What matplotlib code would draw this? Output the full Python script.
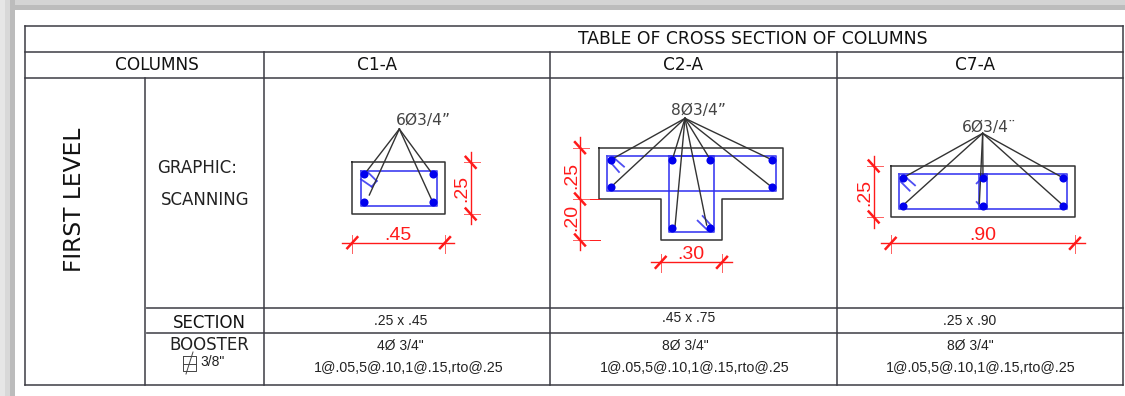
# -*- coding: utf-8 -*-
import matplotlib
matplotlib.use('Agg')
import matplotlib.pyplot as plt

# table grid, in picture pixels
rowLines = [26, 52, 78, 308, 333, 384.5]
colLines = [25, 144.5, 263.5, 549.5, 836.5, 1123]

title = 'TABLE OF CROSS SECTION OF COLUMNS'
columnNames = ['C1-A', 'C2-A', 'C7-A']
columnNameX = [377, 683, 975]
sectionText = ['.25 x .45', '.45 x .75', '.25 x .90']
sectionX = [401, 688.5, 970]
sectionY = [321, 318.5, 321]
boosterText = ['4Ø 3/4"', '8Ø 3/4"', '8Ø 3/4"']
boosterX = [400, 685, 970]
spacingText = '1@.05,5@.10,1@.15,rto@.25'
spacingX = [408.5, 695, 980.5]

c1Origin = (260, 80)
c1Outline = [(277, 247), (555, 247), (555, 402), (277, 402), (277, 247)]
c1Stirrups = [[(302, 272), (530, 272), (530, 378), (302, 378), (302, 272)]]
c1Hooks = [[(325, 278), (350, 303)], [(303, 298), (335, 320)], [(335, 320), (350, 303)]]
c1Bars = [(313, 283), (518, 283), (313, 366), (518, 366)]
c1Apex = (418, 147)
c1Leaders = [(313, 283), (518, 283), (328, 345), (518, 366)]
c1Label = ('6Ø3/4”', 490, 121)
c1DimH = [(488, 247, 583, [277, 555], '.45', 415, 465)]
c1DimV = [(632, 217, 432, [247, 402], '.25', 606, 325)]

c2Origin = (550, 80)
c2Outline = [(147, 203), (700, 203), (700, 357), (517, 357), (517, 480),
             (332, 480), (332, 357), (147, 357), (147, 203)]
c2Stirrups = [[(172, 228), (677, 228), (677, 332), (172, 332), (172, 228)],
              [(356, 228), (491, 228), (491, 455), (356, 455), (356, 228)]]
c2Hooks = [[(190, 232), (222, 260)], [(180, 245), (207, 276)],
           [(443, 422), (472, 450)], [(458, 408), (485, 438)]]
c2Bars = [(183, 239), (367, 239), (481, 239), (665, 239),
          (183, 321), (665, 321), (367, 444), (481, 444)]
c2Apex = (405, 115)
c2Leaders = [(183, 239), (367, 239), (481, 239), (665, 239),
             (183, 321), (665, 321), (375, 440), (470, 435)]
c2Label = ('8Ø3/4”', 445, 93)
c2DimH = [(547, 302, 546, [332, 516], '.30', 422, 524)]
c2DimV = [(90, 172, 510, [203, 357, 480], None, 0, 0)]
c2DimText = [('.25', 65, 285), ('.20', 65, 412)]
c2Ext = [[(120, 357), (150, 357)], [(120, 480), (150, 480)]]

c7Origin = (835, 80)
c7Outline = [(167, 258), (720, 258), (720, 411), (167, 411), (167, 258)]
c7Stirrups = [[(192, 283), (696, 283), (696, 388), (192, 388), (192, 283)],
              [(433, 283), (455, 283), (455, 388), (433, 388), (433, 283)]]
c7Hooks = [[(208, 288), (240, 316)], [(197, 305), (224, 332)],
           [(425, 310), (437, 298)], [(425, 366), (437, 380)]]
c7Bars = [(203, 294), (444, 294), (685, 294), (203, 377), (444, 377), (685, 377)]
c7Apex = (443, 160)
c7Leaders = [(203, 294), (444, 294), (685, 294), (203, 377), (433, 370), (685, 377)]
c7Label = ('6Ø3/4¨', 462, 142)
c7DimH = [(490, 138, 750, [167, 720], '.90', 443, 466)]
c7DimV = [(116, 228, 443, [258, 411], '.25', 90, 337)]

red = '#ff1a1a'
blue = '#2f2ff0'
dark = '#3c3c44'
arial = 'Liberation Sans'

fig = plt.figure(figsize=(11.25, 3.96), dpi=100)
ax = fig.add_axes([0, 0, 1, 1])
ax.set_xlim(0, 1125)
ax.set_ylim(396, 0)
ax.axis('off')

# soft grey frame at top and left
for x, w, c in [(0, 5, '#e6e6e6'), (5, 5, '#d8d8d8'), (10, 5, '#bcbcbc')]:
    ax.fill_between([x, x + w], 0, 396, color=c, lw=0)
for y, h, c in [(0, 5, '#d4d4d4'), (5, 5, '#bcbcbc')]:
    ax.fill_between([15, 1125], y, y + h, color=c, lw=0)

# table grid
for y in rowLines:
    ax.plot([colLines[0], colLines[-1]], [y, y], color=dark, lw=1.1)
ax.plot([colLines[0], colLines[1]], [308, 308], color='white', lw=1.6, zorder=2)
ax.plot([colLines[0], colLines[1]], [333, 333], color='white', lw=1.6, zorder=2)
ax.plot([colLines[0], colLines[0]], [rowLines[0], rowLines[-1]], color=dark, lw=1.1)
ax.plot([colLines[-1], colLines[-1]], [rowLines[0], rowLines[-1]], color=dark, lw=1.1)
ax.plot([colLines[1], colLines[1]], [rowLines[2], rowLines[-1]], color=dark, lw=1.1, zorder=3)
for x in colLines[2:5]:
    ax.plot([x, x], [rowLines[1], rowLines[-1]], color=dark, lw=1.1, zorder=3)

# headers
ax.text(752.5, 38.5, title, fontsize=12.4, ha='center', va='center', color='#111111')
ax.text(157, 65, 'COLUMNS', fontsize=12.2, ha='center', va='center', color='#111111')
for x, name in zip(columnNameX, columnNames):
    ax.text(x, 65, name, fontsize=12.2, ha='center', va='center', color='#111111')

ax.text(74.5, 200, 'FIRST LEVEL', fontsize=16.8, rotation=90, ha='center', va='center', color='#111111')
ax.text(157, 168, 'GRAPHIC:', fontsize=12, ha='left', va='center', color='#222222')
ax.text(161, 200, 'SCANNING', fontsize=12, ha='left', va='center', color='#222222')
ax.text(209, 323.5, 'SECTION', fontsize=12, ha='center', va='center', color='#111111')
ax.text(209.5, 345, 'BOOSTER', fontsize=12, ha='center', va='center', color='#222222')

# stirrup symbol next to 3/8"
ax.plot([183, 196, 196, 183, 183], [356, 356, 371, 371, 356], color='#444444', lw=0.7)
ax.plot([183, 196], [364, 364], color='#444444', lw=0.7)
ax.plot([186, 193], [374, 352], color='#444444', lw=0.7)
ax.text(200, 362, '3/8"', fontsize=10, family=arial, ha='left', va='center', color='#222222')

for i in range(3):
    ax.text(sectionX[i], sectionY[i], sectionText[i], fontsize=10, family=arial,
            ha='center', va='center', color='#222222')
    ax.text(boosterX[i], 346, boosterText[i], fontsize=10, family=arial,
            ha='center', va='center', color='#222222')
    ax.text(spacingX[i], 367.5, spacingText, fontsize=10.3, family=arial,
            ha='center', va='center', color='#222222')


def drawSection(origin, outline, stirrups, hooks, bars, apex, leaders, label):
    ox, oy = origin

    def px(p):
        return ox + p[0] / 3, oy + p[1] / 3

    for line in stirrups + hooks:
        pts = [px(p) for p in line]
        ax.plot([p[0] for p in pts], [p[1] for p in pts], color=blue, lw=1.3, alpha=0.85)
    pts = [px(p) for p in outline]
    ax.plot([p[0] for p in pts], [p[1] for p in pts], color='#333333', lw=1.1)
    a = px(apex)
    for q in leaders:
        b = px(q)
        ax.plot([a[0], b[0]], [a[1], b[1]], color='#333333', lw=1.0)
    xs = [px(p)[0] for p in bars]
    ys = [px(p)[1] for p in bars]
    ax.scatter(xs, ys, s=34, color='#0000ee', lw=0, zorder=5)
    t = px(label[1:])
    ax.text(t[0], t[1], label[0], fontsize=11.2, ha='center', va='center', color='#444444')


def drawDims(origin, dimsH, dimsV):
    ox, oy = origin
    for y, x0, x1, ticks, txt, tx, ty in dimsH:
        y = oy + y / 3
        ax.plot([ox + x0 / 3, ox + x1 / 3], [y, y], color=red, lw=1.0)
        for t in ticks:
            x = ox + t / 3
            ax.plot([x, x], [y - 8, y + 10], color=red, lw=0.7, alpha=0.7)
            ax.plot([x - 5, x + 5], [y + 5.5, y - 5.5], color=red, lw=1.8)
        ax.text(ox + tx / 3, oy + ty / 3, txt, fontsize=14, family=arial,
                color=red, ha='center', va='center')
    for x, y0, y1, ticks, txt, tx, ty in dimsV:
        x = ox + x / 3
        ax.plot([x, x], [oy + y0 / 3, oy + y1 / 3], color=red, lw=1.0)
        for t in ticks:
            y = oy + t / 3
            ax.plot([x - 7, x + 9], [y, y], color=red, lw=0.7, alpha=0.7)
            ax.plot([x - 5, x + 5], [y - 5.5, y + 5.5], color=red, lw=1.8)
        if txt:
            ax.text(ox + tx / 3, oy + ty / 3, txt, fontsize=14, family=arial, rotation=90,
                    color=red, ha='center', va='center')


drawSection(c1Origin, c1Outline, c1Stirrups, c1Hooks, c1Bars, c1Apex, c1Leaders, c1Label)
drawDims(c1Origin, c1DimH, c1DimV)
drawSection(c2Origin, c2Outline, c2Stirrups, c2Hooks, c2Bars, c2Apex, c2Leaders, c2Label)
drawDims(c2Origin, c2DimH, c2DimV)
for txt, tx, ty in c2DimText:
    ax.text(c2Origin[0] + tx / 3, c2Origin[1] + ty / 3, txt, fontsize=14, family=arial,
            rotation=90, color=red, ha='center', va='center')
for seg in c2Ext:
    ax.plot([c2Origin[0] + seg[0][0] / 3, c2Origin[0] + seg[1][0] / 3],
            [c2Origin[1] + seg[0][1] / 3, c2Origin[1] + seg[1][1] / 3], color=red, lw=0.7)
drawSection(c7Origin, c7Outline, c7Stirrups, c7Hooks, c7Bars, c7Apex, c7Leaders, c7Label)
drawDims(c7Origin, c7DimH, c7DimV)

plt.savefig('out.png', dpi=100)
